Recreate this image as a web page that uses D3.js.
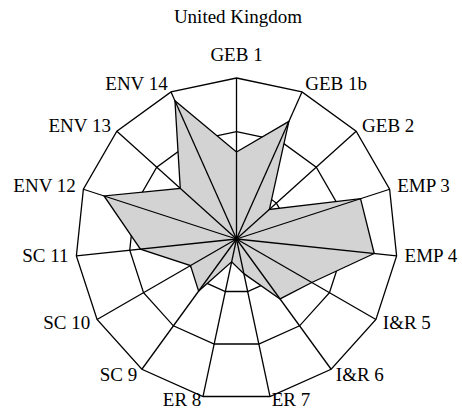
<!DOCTYPE html>
<html>
<head>
<meta charset="utf-8">
<script src="https://cdn.jsdelivr.net/npm/d3@7"></script>
<style>
  body { margin: 0; background: #fff; }
  svg { display: block; }
  text { font-family: "Liberation Serif", "Times New Roman", Times, "DejaVu Serif", serif; }
</style>
</head>
<body>
<div id="chart"></div>
<script>
// indicator labels, clockwise from the top
var axisLabels = ["GEB 1", "GEB 1b", "GEB 2", "EMP 3", "EMP 4", "I&R 5", "I&R 6",
    "ER 7", "ER 8", "SC 9", "SC 10", "SC 11", "ENV 12", "ENV 13", "ENV 14"];
// United Kingdom scores (share of full scale, %)
var ukValues = [54, 80, 27.5, 81, 86, 54, 46, 22, 14.5, 40, 33, 60, 86.5, 47, 94];
var gridLevels = [100 / 3, 200 / 3, 100];
var chartTitle = "United Kingdom";

var w = 462, h = 411;
var cx = 236.5, cy = 239;
var R = 161;
var fontSize = 19;

var svg = d3.select("#chart")
    .append("svg")
    .attr("width", w)
    .attr("height", h);

var r = d3.scaleLinear().domain([0, 100]).range([0, R]);
var angle = d3.scaleLinear()
    .domain([0, axisLabels.length])
    .range([0, 2 * Math.PI]);

var g = svg.append("g")
    .attr("transform", "translate(" + cx + "," + cy + ")");

// grid rings
var ring = d3.lineRadial()
    .angle(function(d, i) { return angle(i); })
    .curve(d3.curveLinearClosed);

g.selectAll("path.grid")
    .data(gridLevels)
    .enter()
    .append("path")
    .attr("class", "grid")
    .attr("d", function(lvl) {
        return ring.radius(r(lvl))(axisLabels);
    })
    .attr("fill", "none")
    .attr("stroke", "#000")
    .attr("stroke-width", 1.3);

// data shape
var shape = d3.lineRadial()
    .angle(function(d, i) { return angle(i); })
    .radius(function(d) { return r(d); })
    .curve(d3.curveLinearClosed);

g.append("path")
    .datum(ukValues)
    .attr("d", shape)
    .attr("fill", "#d3d3d3")
    .attr("stroke", "#000")
    .attr("stroke-width", 1.3)
    .attr("stroke-linejoin", "miter");

// spokes on top
g.selectAll("line.spoke")
    .data(axisLabels)
    .enter()
    .append("line")
    .attr("class", "spoke")
    .attr("x1", 0)
    .attr("y1", 0)
    .attr("x2", function(d, i) { return r(100) * Math.sin(angle(i)); })
    .attr("y2", function(d, i) { return -r(100) * Math.cos(angle(i)); })
    .attr("stroke", "#000")
    .attr("stroke-width", 1.3);

g.append("circle")
    .attr("r", 2.2)
    .attr("fill", "#000");

// axis labels
var lr = r(100) + 8;
g.selectAll("text.axis")
    .data(axisLabels)
    .enter()
    .append("text")
    .attr("class", "axis")
    .text(function(d) { return d; })
    .attr("x", function(d, i) { return lr * Math.sin(angle(i)); })
    .attr("y", function(d, i) { return -lr * Math.cos(angle(i)); })
    .attr("dy", function(d, i) {
        if (i == 0) return "-0.5em";
        if (Math.cos(angle(i)) < -0.9) return "0.08em";
        return "0.3em";
    })
    .attr("text-anchor", function(d, i) {
        var s = Math.sin(angle(i));
        if (Math.abs(s) < 0.05) return "middle";
        return s > 0 ? "start" : "end";
    })
    .attr("font-size", fontSize + "px")
    .attr("fill", "#000");

svg.append("text")
    .attr("x", 238)
    .attr("y", 22.5)
    .attr("text-anchor", "middle")
    .attr("font-size", fontSize + "px")
    .attr("fill", "#000")
    .text(chartTitle);
</script>
</body>
</html>
